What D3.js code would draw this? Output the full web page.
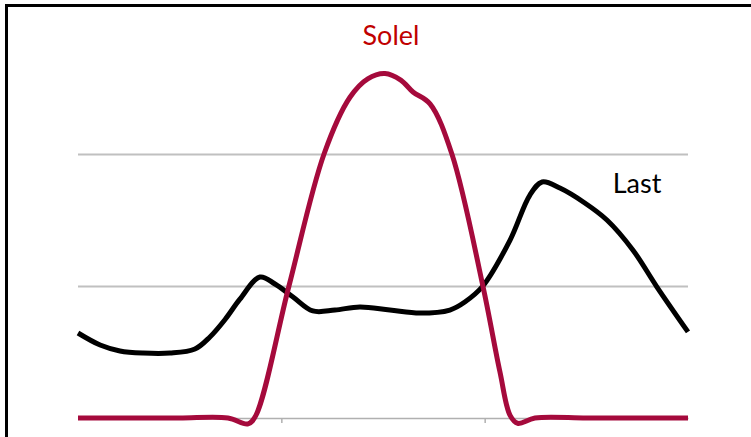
<!DOCTYPE html>
<html>
<head>
<meta charset="utf-8">
<script src="https://cdn.jsdelivr.net/npm/d3@7"></script>
<style>
  html, body { margin: 0; padding: 0; background: #fff; }
  svg { display: block; }
</style>
</head>
<body>
<svg id="chart" width="751" height="437"></svg>
<script>
// ---- data (hours of the day, values in grid units) ----
const xTicks = [8, 16];
const gridValues = [1, 2];

const solelHours  = [0, 2, 4, 5.9, 6.69, 7.0, 8.30, 9.68, 10.70, 11.40, 12.08, 12.70, 13.18, 13.85, 14.71, 15.93, 16.60, 17.00, 17.30, 17.98, 20, 22, 24];
const solelValues = [0, 0, 0, 0, -0.045, 0.02, 1.0, 2.0, 2.43, 2.57, 2.61, 2.56, 2.47, 2.38, 2.0, 1.0, 0.35, 0.02, -0.04, 0, 0, 0, 0];

const lastHours  = [0, 0.87, 1.65, 2.56, 3.62, 4.60, 5.19, 5.80, 6.37, 7.16, 7.75, 8.46, 9.24, 10.11, 11.09, 12.27, 13.45, 14.63, 15.22, 15.93, 17.0, 17.78, 18.26, 18.96, 19.94, 20.81, 21.83, 22.78, 24];
const lastValues = [0.644, 0.553, 0.508, 0.492, 0.492, 0.523, 0.614, 0.75, 0.90, 1.068, 1.015, 0.917, 0.811, 0.818, 0.841, 0.818, 0.795, 0.818, 0.879, 1.0, 1.348, 1.689, 1.788, 1.742, 1.629, 1.5, 1.273, 0.992, 0.652];

const seriesLabels = ["Solel", "Last"];

// ---- layout ----
const svg = d3.select("#chart");
const x = d3.scaleLinear().domain([0, 24]).range([78, 688]);
const y = d3.scaleLinear().domain([0, 3]).range([418, 22]);

// frame (top + left border)
svg.append("path")
  .attr("d", "M6.5,437 L6.5,5.5 L751,5.5")
  .attr("fill", "none")
  .attr("stroke", "#000")
  .attr("stroke-width", 3);

// gridlines
svg.append("g")
  .attr("transform", `translate(${x(0)},0)`)
  .call(d3.axisLeft(y).tickValues(gridValues).tickSize(-(x(24) - x(0))).tickFormat(""))
  .call(g => g.select(".domain").remove())
  .call(g => g.selectAll(".tick line").attr("stroke", "#c0c0c0").attr("stroke-width", 2));

// x axis
svg.append("g")
  .attr("transform", `translate(0,${y(0)})`)
  .call(d3.axisBottom(x).tickValues(xTicks).tickSize(5).tickSizeOuter(0).tickFormat(""))
  .call(g => g.select(".domain").attr("stroke", "#b0b0b0").attr("stroke-width", 1.5))
  .call(g => g.selectAll(".tick line").attr("stroke", "#b0b0b0").attr("stroke-width", 1.5));

const line = d3.line().x(d => x(d[0])).y(d => y(d[1])).curve(d3.curveCatmullRom.alpha(0.5));

// Last (black)
svg.append("path")
  .datum(d3.zip(lastHours, lastValues))
  .attr("d", line)
  .attr("fill", "none")
  .attr("stroke", "#000")
  .attr("stroke-width", 5)
  .attr("stroke-linejoin", "round")
  .attr("stroke-linecap", "butt");

// Solel (crimson)
svg.append("path")
  .datum(d3.zip(solelHours, solelValues))
  .attr("d", line)
  .attr("fill", "none")
  .attr("stroke", "#a50a3c")
  .attr("stroke-width", 5)
  .attr("stroke-linejoin", "round")
  .attr("stroke-linecap", "butt");

// labels
svg.append("text")
  .attr("x", 391).attr("y", 45)
  .attr("text-anchor", "middle")
  .attr("font-family", "Lato, 'Open Sans', sans-serif")
  .attr("font-size", 27)
  .attr("fill", "#c00000")
  .text(seriesLabels[0]);

svg.append("text")
  .attr("x", 637).attr("y", 193)
  .attr("text-anchor", "middle")
  .attr("font-family", "Lato, 'Open Sans', sans-serif")
  .attr("font-size", 27)
  .attr("fill", "#000")
  .text(seriesLabels[1]);
</script>
</body>
</html>
